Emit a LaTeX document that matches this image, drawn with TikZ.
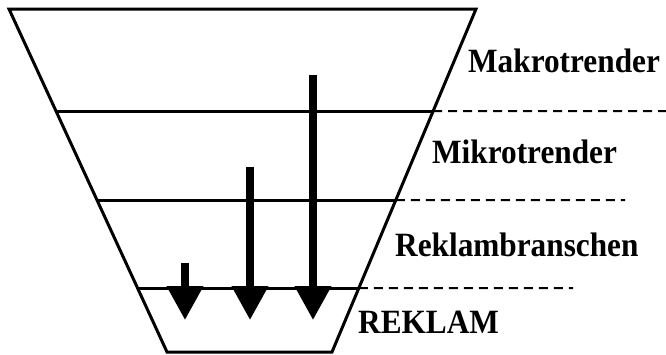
\documentclass[tikz,border=0pt]{standalone}
\usepackage{fontspec}
\usepackage{graphicx}
\setmainfont{Liberation Serif}
\usetikzlibrary{arrows.meta,calc}
\newcommand{\lbltext}[1]{\scalebox{0.92}[1]{#1}}
\tikzset{
  funnel/.style={line width=3pt, line join=miter},
  divider/.style={line width=3pt},
  guide/.style={line width=2pt, dash pattern=on 9pt off 6pt},
  flow/.style={line width=7.5pt, -{Triangle[length=34pt,width=35pt]}},
  lbl/.style={anchor=base west, inner sep=0pt, font=\fontsize{34}{38}\selectfont\bfseries},
}
\begin{document}
\begin{tikzpicture}[x=1pt,y=-1pt]
\useasboundingbox (0,0) rectangle (666,354);
% funnel corners
\coordinate (tl) at (9,9);
\coordinate (tr) at (476,9);
\coordinate (br) at (332,352);
\coordinate (bl) at (167,352);
\draw[funnel] (tl) -- (tr) -- (br) -- (bl) -- cycle;
% level dividers
\coordinate (l1) at ($(tl)!0.2974!(bl)$);
\coordinate (r1) at ($(tr)!0.2974!(br)$);
\coordinate (l2) at ($(tl)!0.5569!(bl)$);
\coordinate (r2) at ($(tr)!0.5569!(br)$);
\coordinate (l3) at ($(tl)!0.8134!(bl)$);
\coordinate (r3) at ($(tr)!0.8134!(br)$);
\draw[divider] (l1) -- (r1);
\draw[divider] (l2) -- (r2);
\draw[divider] (l3) -- (r3);
\coordinate (d1) at (666,111);
\coordinate (d2) at (625,200);
\coordinate (d3) at (573,288);
\draw[guide] (r1) -- (d1);
\draw[guide] (r2) -- (d2);
\draw[guide] (r3) -- (d3);
% arrows
\coordinate (a1s) at (313,75);
\coordinate (a1e) at (313,320);
\coordinate (a2s) at (250,167);
\coordinate (a2e) at (250,320);
\coordinate (a3s) at (185,263);
\coordinate (a3e) at (185,320);
\draw[flow] (a1s) -- (a1e);
\draw[flow] (a2s) -- (a2e);
\draw[flow] (a3s) -- (a3e);
% labels
\node[lbl] (makro) at (468,72) {\lbltext{Makrotrender}};
\node[lbl] (mikro) at (432,163) {\lbltext{Mikrotrender}};
\node[lbl] (bransch) at (395,256) {\lbltext{Reklambranschen}};
\node[lbl] (reklam) at (358,333) {\lbltext{REKLAM}};
\end{tikzpicture}
\end{document}
